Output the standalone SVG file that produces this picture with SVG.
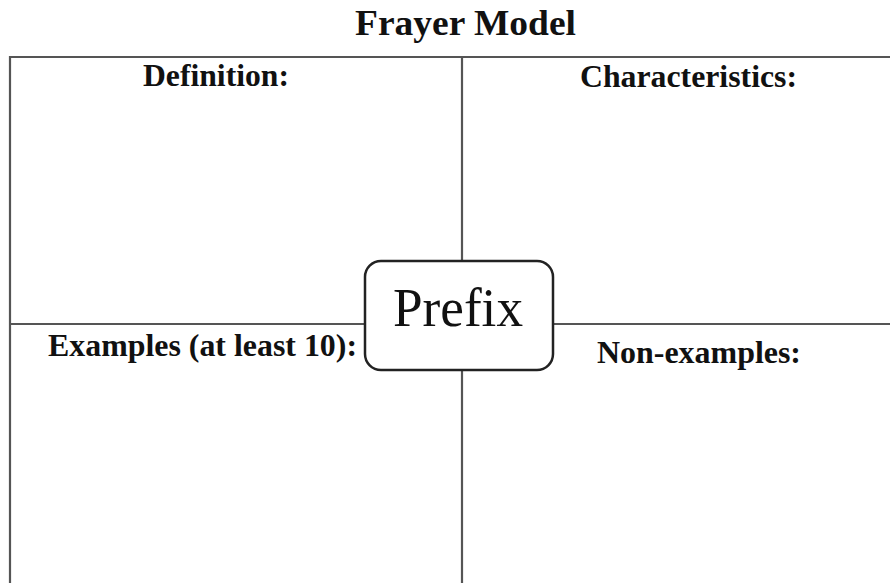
<svg xmlns="http://www.w3.org/2000/svg" width="890" height="583" viewBox="0 0 890 583">
<style>
.ln{stroke:#555;stroke-width:2.2;fill:none}
.hd{font-family:"Liberation Serif","Times New Roman",serif;font-weight:bold;fill:#111}
.ct{font-family:"Liberation Serif","Times New Roman",serif;fill:#111}
</style>
<rect width="890" height="583" fill="#fff"/>
<g id="title"><text class="hd" x="355" y="35" font-size="36" textLength="221" lengthAdjust="spacingAndGlyphs">Frayer Model</text></g>
<g id="connectors">
<path class="ln" d="M10,583 V57 H890"/>
<line class="ln" x1="462" y1="57" x2="462" y2="262"/>
<line class="ln" x1="462" y1="370" x2="462" y2="583"/>
<line class="ln" x1="10" y1="324" x2="365" y2="324"/>
<line class="ln" x1="552" y1="324" x2="890" y2="324"/>
</g>
<g id="definition"><text class="hd" x="143" y="86" font-size="32" textLength="146" lengthAdjust="spacingAndGlyphs">Definition:</text></g>
<g id="characteristics"><text class="hd" x="580" y="87" font-size="32" textLength="217" lengthAdjust="spacingAndGlyphs">Characteristics:</text></g>
<g id="examples"><text class="hd" x="48" y="356" font-size="32" textLength="309" lengthAdjust="spacingAndGlyphs">Examples (at least 10):</text></g>
<g id="nonexamples"><text class="hd" x="597" y="363" font-size="32" textLength="204" lengthAdjust="spacingAndGlyphs">Non-examples:</text></g>
<g id="prefix">
<rect x="365" y="261" width="188" height="109" rx="16" fill="#fff" stroke="#222" stroke-width="2.5"/>
<text class="ct" x="393" y="326" font-size="54" textLength="130" lengthAdjust="spacingAndGlyphs">Prefix</text>
</g>
</svg>
